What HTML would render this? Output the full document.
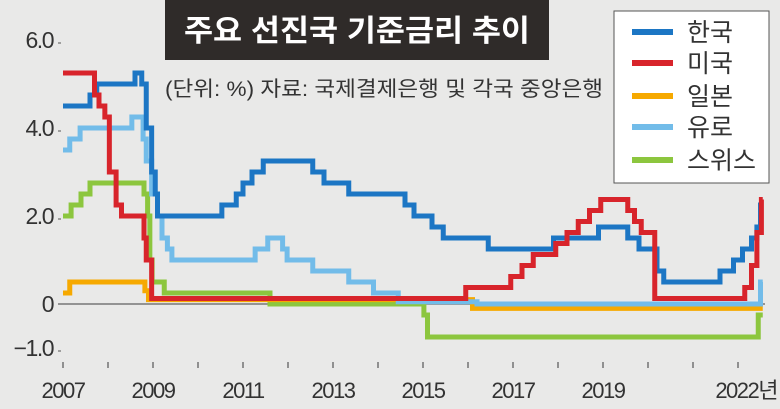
<!DOCTYPE html>
<html><head><meta charset="utf-8">
<style>
body{margin:0;background:#e9e9e8;}
svg{display:block;font-family:"Liberation Sans","Noto Sans CJK KR",sans-serif;}
.k{font-family:"Liberation Sans","Noto Sans CJK KR",sans-serif;}
</style></head>
<body>
<svg id="chart" width="780" height="409" viewBox="0 0 780 409" xmlns="http://www.w3.org/2000/svg">
<rect x="0" y="0" width="780" height="409" fill="#e9e9e8"/>
<g id="axes"></g>
<g id="series"></g>
<rect x="165" y="0" width="384" height="60" fill="#2f2b29"/>
<text class="k" x="184" y="41" fill="#fff" font-size="30" font-weight="bold" textLength="346" lengthAdjust="spacingAndGlyphs">주요 선진국 기준금리 추이</text>
<text class="k" x="165" y="96" fill="#333" font-size="21" textLength="438" lengthAdjust="spacingAndGlyphs">(단위: %) 자료: 국제결제은행 및 각국 중앙은행</text>
<g id="legend">
<rect x="614" y="11" width="155" height="172" fill="#fff" stroke="#555" stroke-width="1"/>
</g>
</svg>
<script>
const years=[2007,2008,2009,2010,2011,2012,2013,2014,2015,2016,2017,2018,2019,2020,2021,2022];
const yearLabels=["2007","","2009","","2011","","2013","","2015","","2017","","2019","","","2022년"];
const yTicks=[6,4,2,0,-1];
const yTickLabels=["6.0","4.0","2.0","0","−1.0"];
const seriesNames=["한국","미국","일본","유로","스위스"];
const seriesColors=["#1c76c4","#d8242b","#f6a900","#72bce9","#8cc63e"];
const korea=[[2007,4.5],[2007.6,4.75],[2007.75,5.0],[2008.6,5.25],[2008.75,5.0],[2008.85,4.0],[2008.97,3.0],[2009.05,2.5],[2009.1,2.0],[2010.53,2.25],[2010.85,2.5],[2011.0,2.75],[2011.2,3.0],[2011.45,3.25],[2012.55,3.0],[2012.8,2.75],[2013.35,2.5],[2014.6,2.25],[2014.8,2.0],[2015.2,1.75],[2015.45,1.5],[2016.45,1.25],[2017.9,1.5],[2018.9,1.75],[2019.55,1.5],[2019.8,1.25],[2020.2,0.75],[2020.35,0.5],[2021.6,0.75],[2021.9,1.0],[2022.1,1.25],[2022.3,1.5],[2022.42,1.75],[2022.5,2.25],[2022.55,2.25]];
const usa=[[2007,5.25],[2007.7,4.75],[2007.8,4.5],[2007.93,4.25],[2008.03,3.0],[2008.18,2.25],[2008.3,2.0],[2008.8,1.5],[2008.85,1.0],[2008.97,0.125],[2015.95,0.375],[2016.95,0.625],[2017.2,0.875],[2017.45,1.125],[2017.95,1.375],[2018.2,1.625],[2018.45,1.875],[2018.7,2.125],[2018.95,2.375],[2019.55,2.125],[2019.7,1.875],[2019.85,1.625],[2020.15,0.125],[2022.15,0.375],[2022.3,0.875],[2022.42,1.625],[2022.52,2.375],[2022.55,2.375]];
const japan=[[2007,0.25],[2007.15,0.5],[2008.82,0.3],[2008.9,0.1],[2016.1,-0.1],[2022.55,-0.1]];
const euro=[[2007,3.5],[2007.15,3.75],[2007.38,4.0],[2008.53,4.25],[2008.78,3.75],[2008.85,3.25],[2008.97,2.5],[2009.1,2.0],[2009.2,1.5],[2009.32,1.25],[2009.42,1.0],[2011.27,1.25],[2011.55,1.5],[2011.88,1.25],[2011.98,1.0],[2012.55,0.75],[2013.35,0.5],[2013.9,0.25],[2014.45,0.05],[2016.2,0.0],[2022.5,0.5],[2022.55,0.5]];
const swiss=[[2007,2.0],[2007.18,2.25],[2007.4,2.5],[2007.6,2.75],[2008.8,2.5],[2008.88,2.0],[2008.93,1.0],[2008.98,0.5],[2009.25,0.25],[2011.6,0.0],[2015.02,-0.25],[2015.1,-0.75],[2022.45,-0.25],[2022.55,-0.25]];
const allSeries=[korea,usa,japan,euro,swiss];
const drawOrder=[4,2,3,0,1];

const NS="http://www.w3.org/2000/svg";
const xS=y=>63+(y-2007)*45;
const yS=v=>304-v*44;
function mk(tag,attrs,parent){const e=document.createElementNS(NS,tag);for(const k in attrs)e.setAttribute(k,attrs[k]);parent.appendChild(e);return e;}
const axes=document.getElementById('axes');
const zl=mk('line',{x1:58,x2:765,y1:yS(0),y2:yS(0),stroke:'#777','stroke-width':1.5},axes);


yTicks.forEach((v,i)=>{
  const t=mk('text',{x:53,y:yS(v)+8,'font-size':23,fill:'#333','text-anchor':'end','letter-spacing':'-1.5'},axes);
  t.textContent=yTickLabels[i];
  
  
  if(v!==0){const m=mk('line',{x1:58,x2:61,y1:yS(v)+3,y2:yS(v)+3,stroke:'#555','stroke-width':1},axes);
  
  }
});
years.forEach((yr,i)=>{
  const m=mk('line',{x1:xS(yr),x2:xS(yr),y1:362,y2:368,stroke:'#555','stroke-width':1.2},axes);
  
  
  if(yearLabels[i]){
    const isLast=i===years.length-1;
    const t=mk('text',{x:isLast?777:xS(yr),y:398,'font-size':22,fill:'#333','text-anchor':isLast?'end':'middle','letter-spacing':'-1.5'},axes);
    t.textContent=yearLabels[i];
    
    
  }
});
const sg=document.getElementById('series');
const seriesKeys=["korea","usa","japan","euro","swiss"];
drawOrder.forEach(si=>{
  const d=allSeries[si];
  let p='M'+xS(d[0][0])+' '+yS(d[0][1]);
  for(let i=1;i<d.length;i++){p+=' H'+xS(d[i][0])+' V'+yS(d[i][1]);}
  const path=mk('path',{d:p,fill:'none',stroke:seriesColors[si],'stroke-width':5,'stroke-linejoin':'miter'},sg);
  
  
});
const lg=document.getElementById('legend');
const ly=[32,63,96,127,160];
seriesNames.forEach((n,i)=>{
  const l=mk('line',{x1:632,x2:673,y1:ly[i],y2:ly[i],stroke:seriesColors[i],'stroke-width':6},lg);
  
  
  const t=mk('text',{x:687,y:ly[i]+9,'font-size':25,fill:'#333',class:'k'},lg);
  t.textContent=n;
  
  
});
</script>
</body></html>
